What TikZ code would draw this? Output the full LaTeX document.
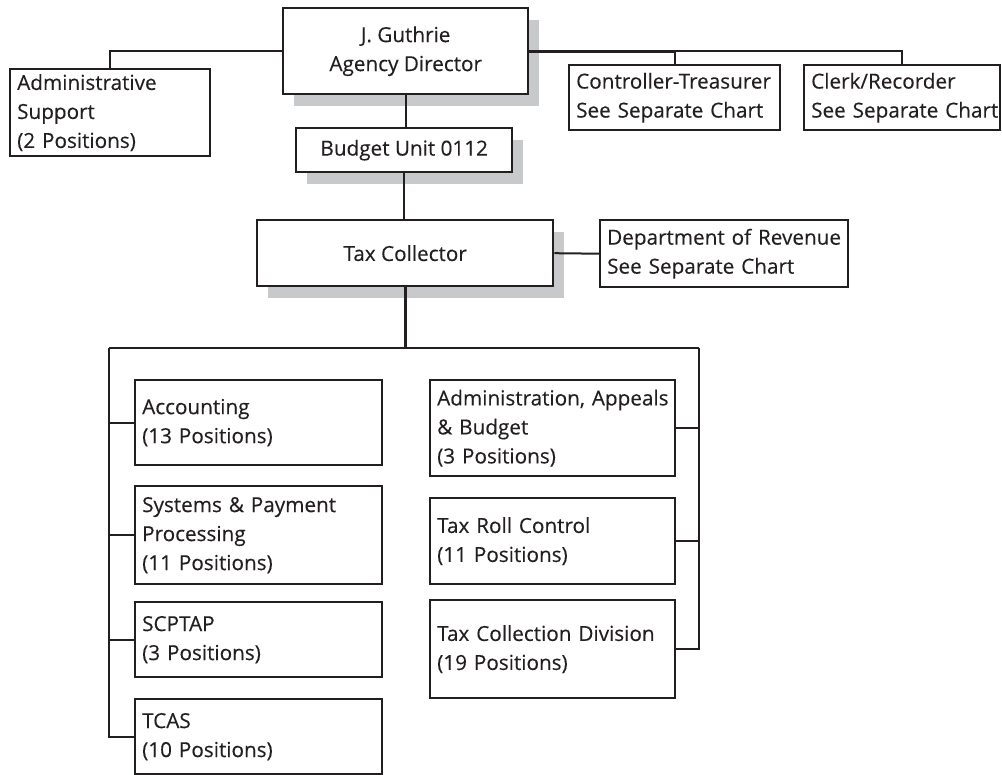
\documentclass[tikz,border=0pt]{standalone}
\usepackage{fontspec}
\setmainfont{Open Sans}[UprightFeatures={FakeBold=0.25}]
\usetikzlibrary{shadows}
\definecolor{shadowgray}{RGB}{200,201,203}
\definecolor{ink}{RGB}{35,31,32}
\tikzset{
  unit/.style={draw=ink, line width=2.4pt, fill=white, inner sep=0pt,
    inner xsep=7pt, font=\fontsize{20.7}{29}\selectfont, text=ink},
  leftbox/.style={unit, align=left, anchor=north west},
  midbox/.style={unit, align=center, anchor=north west},
  shadowed/.style={drop shadow={shadow xshift=11pt, shadow yshift=-12pt,
    fill=shadowgray, opacity=1}},
  link/.style={draw=ink, line width=2pt},
  heavy/.style={draw=ink, line width=3pt},
}
\begin{document}
\hyphenpenalty=10000
\hfuzz=20pt
\begin{tikzpicture}[x=1pt, y=-1pt]
\useasboundingbox (0,0) rectangle (1002,775);

% top level
\node[midbox, shadowed, minimum width=245pt, minimum height=86pt] (dir) at (282,7)
  {J. Guthrie\\Agency Director};
\node[leftbox, text width=186pt, minimum height=87pt] (adm) at (9,68)
  {Administrative\\Support\\(2 Positions)};
\node[leftbox, text width=197pt, minimum height=65pt] (ctl) at (568,64)
  {\mbox{Controller-Treasurer}\\\mbox{See Separate Chart}};
\node[leftbox, text width=182pt, minimum height=65pt] (clk) at (803,64)
  {\mbox{Clerk/Recorder}\\\mbox{See Separate Chart}};

% budget unit and tax collector
\node[midbox, shadowed, minimum width=216pt, minimum height=44pt] (bud) at (295,127)
  {Budget Unit 0112};
\node[midbox, shadowed, minimum width=296pt, minimum height=66pt] (tax) at (256,219)
  {Tax Collector};
\node[leftbox, text width=234pt, minimum height=67pt] (rev) at (599,219)
  {\mbox{Department of Revenue}\\\mbox{See Separate Chart}};

% left column of divisions
\node[leftbox, text width=233pt, minimum height=85pt] (acc) at (134,379)
  {Accounting\\(13 Positions)};
\node[leftbox, text width=233pt, minimum height=98pt] (sys) at (134,485)
  {Systems \& Payment\\Processing\\(11 Positions)};
\node[leftbox, text width=233pt, minimum height=75pt] (scp) at (134,601)
  {SCPTAP\\(3 Positions)};
\node[leftbox, text width=233pt, minimum height=75pt] (tca) at (134,698)
  {TCAS\\(10 Positions)};

% right column of divisions
\node[leftbox, text width=231pt, minimum height=96pt] (aab) at (429,379)
  {\mbox{Administration, Appeals}\\\& Budget\\(3 Positions)};
\node[leftbox, text width=231pt, minimum height=86pt] (trc) at (429,497)
  {Tax Roll Control\\(11 Positions)};
\node[leftbox, text width=231pt, minimum height=98pt] (tcd) at (429,599)
  {\mbox{Tax Collection Division}\\(19 Positions)};

% connectors at the top
\coordinate (ctlj) at (ctl.north |- dir.west);
\draw[link] (dir.west) -| (adm.north);
\draw[heavy] (dir.east) -- (ctlj);
\draw[link] (ctlj) -- (ctl.north);
\draw[link] (ctlj) -| (clk.north);
\draw[link] (dir.south) -- (dir.south |- bud.north);
\draw[link] (bud.south) -- (bud.south |- tax.north);
\draw[link] (tax.east) -- (rev.west);

% division bus
\coordinate (busM) at (tax.south |- 0,348);
\coordinate (busL) at (109,348);
\coordinate (busR) at (699,348);
\draw[heavy] (tax.south) -- (busM);
\draw[link] (busL) -- (busR);
\draw[link] (busL) |- (tca.west);
\draw[link] (acc.west) -- (acc.west -| busL);
\draw[link] (sys.west) -- (sys.west -| busL);
\draw[link] (scp.west) -- (scp.west -| busL);
\draw[link] (busR) |- (tcd.east);
\draw[link] (aab.east) -- (aab.east -| busR);
\draw[link] (trc.east) -- (trc.east -| busR);
\end{tikzpicture}
\end{document}
